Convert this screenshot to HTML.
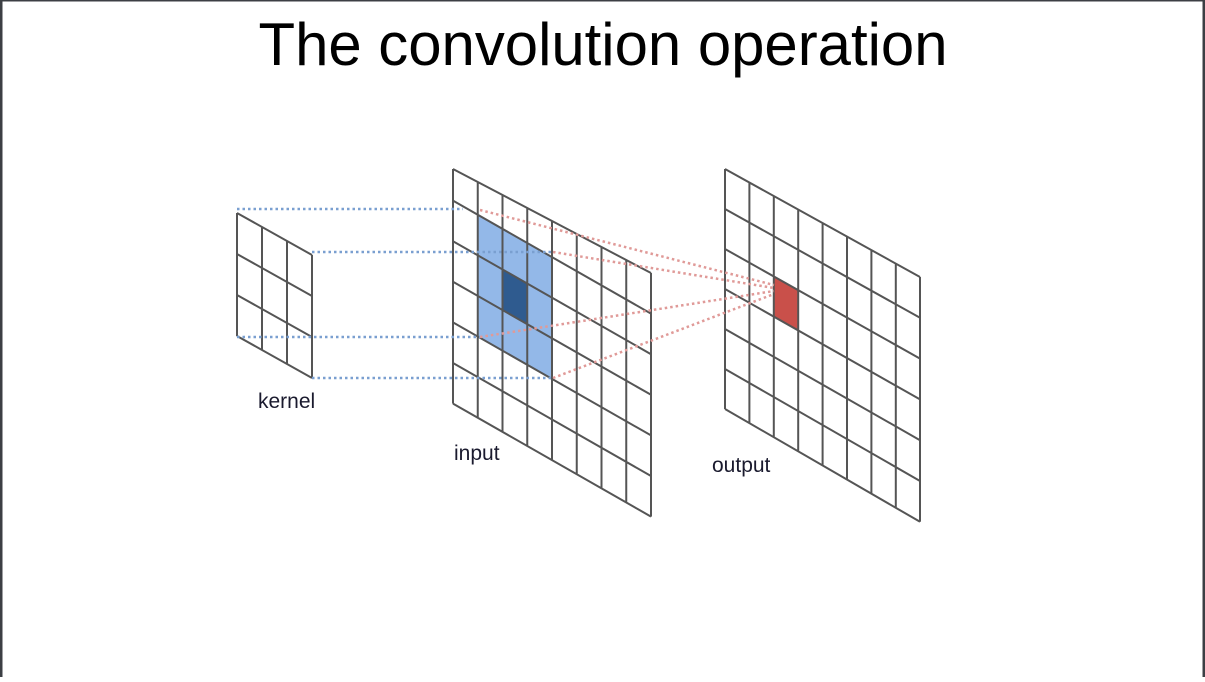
<!DOCTYPE html>
<html><head><meta charset="utf-8"><style>
html,body{margin:0;padding:0;background:#fff}
body{width:1205px;height:677px;overflow:hidden;position:relative}
</style></head><body>
<svg width="1205" height="677" viewBox="0 0 1205 677" xmlns="http://www.w3.org/2000/svg">
<rect x="0" y="0" width="1205" height="677" fill="#fff"/>
<rect x="0" y="0" width="1205" height="1.5" fill="#3c3f44"/>
<rect x="0" y="0" width="2.5" height="677" fill="#3c3f44"/>
<rect x="1202.5" y="0" width="2.5" height="677" fill="#3c3f44"/>
<text x="603" y="65" text-anchor="middle" font-family="Liberation Sans, Arial, sans-serif" font-size="60" textLength="689" lengthAdjust="spacingAndGlyphs" fill="#000">The convolution operation</text>

<!-- input highlight -->
<polygon points="478,214.7 552,256.9 552,378.7 478,336.5" fill="#93b8e8"/>
<polygon points="502.7,269.4 527.3,283.5 527.3,324.1 502.7,310" fill="#2f5b8f"/>
<!-- output red cell -->
<polygon points="774,276.1 798,289.4 798,330.3 774,317" fill="#c9504a"/>

<g stroke="#555" stroke-width="2" fill="none">
<!-- kernel -->
<path d="M237,213 L312,255 M237,254 L312,296 M237,295 L312,337 M237,336 L312,378
M237,213 L237,336 M262,227 L262,350 M287,241 L287,364 M312,255 L312,378"/>
<!-- input -->
<path d="M453,169 L651,273 M453,200.6 L651,313.6 M453,241.2 L651,354.2 M453,281.8 L651,394.8 M453,322.4 L651,435.4 M453,363 L651,476 M453,403.6 L651,516.6
M453,169 L453,403.6 M477.75,182 L477.75,417.7 M502.5,195 L502.5,431.8 M527.25,208 L527.25,445.9 M552,221 L552,460 M576.75,234 L576.75,474.1 M601.5,247 L601.5,488.2 M626.25,260 L626.25,502.3 M651,273 L651,516.6"/>
<!-- output -->
<path d="M725,169 L920,277 M725,209 L920,317.8 M725,249 L920,358.6 M725,289 L920,399.4 M725,329 L920,440.2 M725,369 L920,481 M725,409 L920,521.8
M725,169 L725,409 M749.4,182.5 L749.4,423.1 M773.8,196 L773.8,437.2 M798.2,209.5 L798.2,451.3 M822.6,223 L822.6,465.4 M847,236.5 L847,479.5 M871.4,250 L871.4,493.6 M895.8,263.5 L895.8,507.7 M920,277 L920,521.8"/>
</g>

<g stroke="#7a9fd0" stroke-width="2.5" stroke-dasharray="2.5 3" fill="none">
<path d="M237,209 L463,209 M312,252 L553,252 M237,337 L480,337 M312,378 L553,378"/>
</g>
<g stroke="#e09a98" stroke-width="2.5" stroke-dasharray="2.5 3" fill="none">
<path d="M480,210 L774,285 M553,252 L774,288 M480,337 L774,291 M553,378 L774,294"/>
</g>

<g font-family="Liberation Sans, Arial, sans-serif" font-size="21" fill="#1a1a2e">
<text x="258" y="408">kernel</text>
<text x="454" y="460">input</text>
<text x="712" y="472">output</text>
</g>
</svg>
</body></html>
